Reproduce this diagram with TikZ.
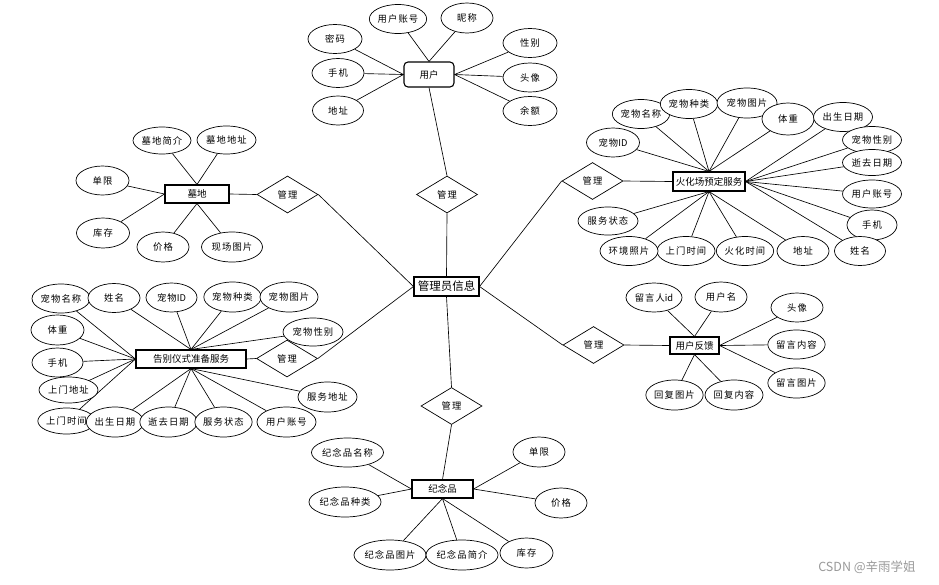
\documentclass[tikz,border=0pt]{standalone}
\usepackage{fontspec}
\setmainfont{Noto Sans CJK SC}
\newfontfamily\attrfont[LetterSpace=12]{Noto Sans CJK SC}
\newfontfamily\plainfont{Noto Sans CJK SC}
\newcommand\latinpart[1]{{\plainfont\fontsize{9.3}{10}\selectfont #1}}
\usetikzlibrary{shapes.geometric}
\pgfdeclarelayer{bg}
\pgfsetlayers{bg,main}
\tikzset{
  attr/.style={ellipse,draw,fill=white,line width=0.7pt,minimum width=54,minimum height=29,inner sep=0pt,font=\attrfont\fontsize{9.3}{10}\selectfont},
  ent/.style={rectangle,draw,fill=white,line width=1.1pt,minimum height=18,inner sep=0pt,font=\plainfont\fontsize{9.5}{10}\selectfont},
  rel/.style={diamond,draw,fill=white,line width=0.7pt,minimum width=61,minimum height=37,inner sep=0pt,font=\attrfont\fontsize{9.3}{10}\selectfont},
  link/.style={line width=0.65pt}
}
\begin{document}
\begin{tikzpicture}[x=1pt,y=-1pt]
\useasboundingbox (0,0) rectangle (939,584);
% centre
\node[ent,minimum width=65,minimum height=19,font=\fontsize{11.5}{12}\selectfont] (admin) at (446.5,286.5) {管理员信息};
% user
\node[ent,rounded corners=4pt,minimum width=50,minimum height=25] (user) at (429,74.5) {用户};
\node[attr,minimum width=57] (u1) at (398,19) {用户账号};
\node[attr,minimum width=52,minimum height=30] (u2) at (467,18) {昵称};
\node[attr] (u3) at (335,39) {密码};
\node[attr,minimum width=52] (u4) at (338,73) {手机};
\node[attr,minimum width=51] (u5) at (338,110.5) {地址};
\node[attr] (u6) at (530,43) {性别};
\node[attr] (u7) at (530,77.5) {头像};
\node[attr] (u8) at (530,111) {余额};
\node[rel] (r1) at (447,194.5) {管理};
% cemetery
\node[ent,minimum width=64] (g) at (197,194) {墓地};
\node[attr,minimum width=58,minimum height=27] (g1) at (162,140.5) {墓地简介};
\node[attr,minimum width=59,minimum height=28] (g2) at (226.5,140) {墓地地址};
\node[attr,minimum width=53] (g3) at (102.5,180.5) {单限};
\node[attr,minimum width=53,minimum height=30] (g4) at (103,233) {库存};
\node[attr,minimum width=52,minimum height=30] (g5) at (163,247) {价格};
\node[attr,minimum width=61,minimum height=30] (g6) at (232,247) {现场图片};
\node[rel] (rg) at (287.5,194.5) {管理};
% cremation
\node[ent,minimum width=72,minimum height=19] (h) at (709,181.5) {火化场预定服务};
\node[attr,minimum width=56] (h1) at (641,114) {宠物名称};
\node[attr,minimum width=54] (h2) at (689,104) {宠物种类};
\node[attr,minimum width=60,minimum height=30] (h3) at (747,103) {宠物图片};
\node[attr,minimum width=52,minimum height=32] (h4) at (788,119) {体重};
\node[attr,minimum width=59] (h5) at (843,117) {出生日期};
\node[attr,minimum width=59,minimum height=27] (h6) at (872,140) {宠物性别};
\node[attr,minimum width=59,minimum height=26] (h7) at (872,162.5) {逝去日期};
\node[attr,minimum width=59,minimum height=28] (h8) at (872,194) {用户账号};
\node[attr,minimum width=50,minimum height=30] (h9) at (872,225) {手机};
\node[attr,minimum width=51] (h10) at (860,251) {姓名};
\node[attr,minimum width=52] (h11) at (803,251) {地址};
\node[attr,minimum width=56] (h12) at (745,251) {火化时间};
\node[attr,minimum width=58] (h13) at (686,251) {上门时间};
\node[attr,minimum width=58] (h14) at (629,251) {环境照片};
\node[attr,minimum width=60,minimum height=28] (h15) at (608,221) {服务状态};
\node[attr,minimum width=53] (h16) at (613,142.5) {宠物\latinpart{ID}};
\node[rel] (rh) at (592.5,181) {管理};
% feedback
\node[ent,minimum width=49,minimum height=17] (f) at (694.5,345.5) {用户反馈};
\node[attr,minimum width=56] (f1) at (654,297.5) {留言人\latinpart{id}};
\node[attr,minimum width=52,minimum height=30] (f2) at (721,297) {用户名};
\node[attr,minimum width=52] (f3) at (797,307.5) {头像};
\node[attr,minimum width=57] (f4) at (796.5,344.5) {留言内容};
\node[attr,minimum width=57,minimum height=30] (f5) at (796.5,383) {留言图片};
\node[attr,minimum width=57,minimum height=30] (f6) at (674.5,395) {回复图片};
\node[attr,minimum width=58,minimum height=30] (f7) at (734,395) {回复内容};
\node[rel] (rf) at (593.5,345) {管理};
% farewell
\node[ent,minimum width=110] (b) at (191,359) {告别仪式准备服务};
\node[attr,minimum width=58] (b1) at (61,298.5) {宠物名称};
\node[attr,minimum width=52] (b2) at (114,298) {姓名};
\node[attr,minimum width=51] (b3) at (171.5,297.5) {宠物\latinpart{ID}};
\node[attr,minimum width=57,minimum height=30] (b4) at (232.5,297) {宠物种类};
\node[attr,minimum width=58,minimum height=30] (b5) at (289,297) {宠物图片};
\node[attr,minimum width=60,minimum height=28] (b6) at (313,332) {宠物性别};
\node[attr,minimum width=53,minimum height=30] (b7) at (57.5,330) {体重};
\node[attr,minimum width=51] (b8) at (57.5,362.5) {手机};
\node[attr,minimum width=59,minimum height=26] (b9) at (68.5,390) {上门地址};
\node[attr,minimum width=57,minimum height=26] (b10) at (66.5,421) {上门时间};
\node[attr,minimum width=54,minimum height=30] (b11) at (115,422) {出生日期};
\node[attr,minimum width=57,minimum height=30] (b12) at (168.5,422) {逝去日期};
\node[attr,minimum width=57,minimum height=30] (b13) at (223.5,422) {服务状态};
\node[attr,minimum width=59,minimum height=30] (b14) at (286.5,422) {用户账号};
\node[attr,minimum width=59,minimum height=30] (b15) at (327.5,397) {服务地址};
\node[rel] (rb) at (287,358.5) {管理};
% souvenir
\node[ent,minimum width=61] (m) at (442.5,489) {纪念品};
\node[rel] (rm) at (451.5,406) {管理};
\node[attr,minimum width=69] (m1) at (347.5,452.5) {纪念品名称};
\node[attr,minimum width=68,minimum height=30] (m2) at (345,502) {纪念品种类};
\node[attr,minimum width=68,minimum height=30] (m3) at (390,555) {纪念品图片};
\node[attr,minimum width=68,minimum height=30] (m4) at (462,555) {纪念品简介};
\node[attr,minimum width=53,minimum height=30] (m5) at (526.5,553) {库存};
\node[attr,minimum width=52,minimum height=30] (m6) at (539,452) {单限};
\node[attr,minimum width=52,minimum height=30] (m7) at (561,503) {价格};
% watermark
\node[text=black!40,font=\fontsize{12.5}{13}\selectfont,inner sep=0pt] (wm) at (867,567) {CSDN @辛雨学姐};
\begin{pgfonlayer}{bg}
\foreach \a in {u1,u2} \draw[link] (\a) -- (user.north);
\foreach \a in {u3,u4,u5} \draw[link] (\a) -- (user.west);
\foreach \a in {u6,u7,u8} \draw[link] (\a) -- (user.east);
\draw[link] (user.south) -- (r1.north);
\draw[link] (r1.south) -- (admin.north);
\foreach \a in {g1,g2} \draw[link] (\a) -- (g.north);
\foreach \a in {g3,g4} \draw[link] (\a) -- (g.west);
\foreach \a in {g5,g6} \draw[link] (\a) -- (g.south);
\draw[link] (rg.west) -- (g.east);
\draw[link] (rg.east) -- (admin.west);
\foreach \a in {h1,h2,h3,h4,h16} \draw[link] (\a) -- (h.north);
\foreach \a in {h5,h6,h7,h8,h9,h10} \draw[link] (\a) -- (h.east);
\foreach \a in {h11,h12,h13,h14,h15} \draw[link] (\a) -- (h.south);
\draw[link] (rh.east) -- (h.west);
\draw[link] (admin.east) -- (rh.west);
\foreach \a in {f1,f2} \draw[link] (\a) -- (f.north);
\foreach \a in {f3,f4,f5} \draw[link] (\a) -- (f.east);
\foreach \a in {f6,f7} \draw[link] (\a) -- (f.south);
\draw[link] (rf.east) -- (f.west);
\draw[link] (admin.east) -- (rf.west);
\foreach \a in {b2,b3,b4,b5,b6} \draw[link] (\a) -- (b.north);
\foreach \a in {b1,b7,b8,b9,b10} \draw[link] (\a) -- (b.west);
\foreach \a in {b11,b12,b13,b14,b15} \draw[link] (\a) -- (b.south);
\draw[link] (rb.west) -- (b.east);
\draw[link] (rb.east) -- (admin.west);
\draw[link] (admin.south) -- (rm.north);
\draw[link] (rm.south) -- (m.north);
\foreach \a in {m1,m2} \draw[link] (\a) -- (m.west);
\foreach \a in {m6,m7} \draw[link] (\a) -- (m.east);
\foreach \a in {m3,m4,m5} \draw[link] (\a) -- (m.south);
\end{pgfonlayer}
\end{tikzpicture}
\end{document}
